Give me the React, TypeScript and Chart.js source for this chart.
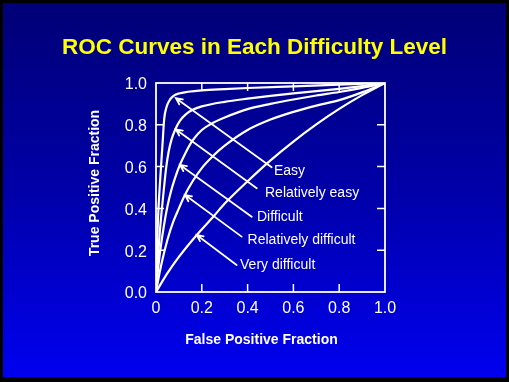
import { useEffect, useRef } from "react";
import { Chart, registerables } from "chart.js";

Chart.register(...registerables);

const FONT = '"Liberation Sans", Arial, Helvetica, sans-serif';

const titleText = "ROC Curves in Each Difficulty Level";
const xAxisTitle = "False Positive Fraction";
const yAxisTitle = "True Positive Fraction";

const tickValues = [0, 0.2, 0.4, 0.6, 0.8, 1.0];
const xTickLabels = ["0", "0.2", "0.4", "0.6", "0.8", "1.0"];
const yTickLabels = ["0.0", "0.2", "0.4", "0.6", "0.8", "1.0"];

const curveNames = ["Easy", "Relatively easy", "Difficult", "Relatively difficult", "Very difficult"];

const easyFpf = [0, 0.004, 0.01, 0.016, 0.022, 0.028, 0.036, 0.046, 0.058, 0.075, 0.1, 0.14, 0.2, 0.3, 0.4, 0.6, 0.8, 1];
const easyTpf = [0, 0.2, 0.38, 0.5, 0.6, 0.7, 0.83, 0.885, 0.915, 0.937, 0.95, 0.958, 0.965, 0.971, 0.976, 0.984, 0.992, 1];

const relEasyFpf = [0, 0.008, 0.016, 0.025, 0.035, 0.045, 0.055, 0.068, 0.085, 0.105, 0.13, 0.16, 0.2, 0.3, 0.4, 0.5, 0.6, 0.7, 0.8, 0.9, 1];
const relEasyTpf = [0, 0.15, 0.28, 0.39, 0.5, 0.6, 0.67, 0.73, 0.78, 0.82, 0.85, 0.872, 0.888, 0.91, 0.925, 0.938, 0.95, 0.961, 0.972, 0.985, 1];

const difficultFpf = [0, 0.01, 0.02, 0.035, 0.05, 0.065, 0.083, 0.105, 0.13, 0.16, 0.2, 0.25, 0.3, 0.4, 0.5, 0.6, 0.7, 0.8, 0.9, 1];
const difficultTpf = [0, 0.12, 0.21, 0.32, 0.41, 0.48, 0.545, 0.61, 0.668, 0.725, 0.775, 0.81, 0.835, 0.875, 0.9, 0.921, 0.94, 0.957, 0.977, 1];

const relDifficultFpf = [0, 0.01, 0.025, 0.05, 0.075, 0.1, 0.125, 0.16, 0.2, 0.25, 0.3, 0.4, 0.5, 0.6, 0.7, 0.8, 0.9, 1];
const relDifficultTpf = [0, 0.06, 0.14, 0.25, 0.335, 0.4, 0.462, 0.53, 0.593, 0.652, 0.7, 0.775, 0.825, 0.862, 0.892, 0.918, 0.955, 1];

const veryDifficultFpf = [0, 0.05, 0.1, 0.178, 0.25, 0.3, 0.4, 0.5, 0.6, 0.7, 0.8, 0.9, 1];
const veryDifficultTpf = [0, 0.09, 0.168, 0.273, 0.36, 0.423, 0.53, 0.63, 0.72, 0.802, 0.876, 0.942, 1];

// annotation arrows (data units)
const arrowTipX = [0.087, 0.087, 0.105, 0.127, 0.178];
const arrowTipY = [0.927, 0.778, 0.608, 0.464, 0.273];
const arrowTailX = [0.505, 0.44, 0.418, 0.374, 0.352];
const arrowTailY = [0.597, 0.496, 0.36, 0.265, 0.129];
const labelX = [0.515, 0.476, 0.441, 0.4, 0.367];
const labelY = [0.579, 0.474, 0.359, 0.246, 0.129];

const seriesFpf = [easyFpf, relEasyFpf, difficultFpf, relDifficultFpf, veryDifficultFpf];
const seriesTpf = [easyTpf, relEasyTpf, difficultTpf, relDifficultTpf, veryDifficultTpf];

const decorPlugin = {
  id: "decor",
  afterDatasetsDraw(chart: any) {
    const { ctx, chartArea: a, scales } = chart;
    const x = scales.x;
    const y = scales.y;
    ctx.save();
    ctx.strokeStyle = "#ffffff";
    ctx.fillStyle = "#ffffff";
    ctx.lineCap = "butt";

    // frame
    ctx.lineWidth = 1.8;
    ctx.strokeRect(a.left, a.top, a.right - a.left, a.bottom - a.top);

    // inward ticks on all four sides
    const tl = 8;
    ctx.lineWidth = 1.5;
    ctx.beginPath();
    tickValues.slice(1, -1).forEach((v) => {
      const px = x.getPixelForValue(v);
      const py = y.getPixelForValue(v);
      ctx.moveTo(px, a.bottom);
      ctx.lineTo(px, a.bottom - tl);
      ctx.moveTo(px, a.top);
      ctx.lineTo(px, a.top + tl);
      ctx.moveTo(a.left, py);
      ctx.lineTo(a.left + tl, py);
      ctx.moveTo(a.right, py);
      ctx.lineTo(a.right - tl, py);
    });
    ctx.stroke();

    // arrows
    ctx.lineWidth = 1.8;
    ctx.lineCap = "round";
    for (let i = 0; i < curveNames.length; i++) {
      const tx = x.getPixelForValue(arrowTipX[i]);
      const ty = y.getPixelForValue(arrowTipY[i]);
      const sx = x.getPixelForValue(arrowTailX[i]);
      const sy = y.getPixelForValue(arrowTailY[i]);
      const ang = Math.atan2(ty - sy, tx - sx);
      const hl = 7;
      const ha = 0.45;
      ctx.beginPath();
      ctx.moveTo(sx, sy);
      ctx.lineTo(tx, ty);
      ctx.moveTo(tx - hl * Math.cos(ang - ha), ty - hl * Math.sin(ang - ha));
      ctx.lineTo(tx, ty);
      ctx.lineTo(tx - hl * Math.cos(ang + ha), ty - hl * Math.sin(ang + ha));
      ctx.stroke();
    }

    // labels
    ctx.font = `14px ${FONT}`;
    ctx.textAlign = "left";
    ctx.textBaseline = "middle";
    for (let i = 0; i < curveNames.length; i++) {
      ctx.fillText(curveNames[i], x.getPixelForValue(labelX[i]), y.getPixelForValue(labelY[i]));
    }

    // axis titles
    ctx.font = `bold 14px ${FONT}`;
    ctx.textAlign = "center";
    ctx.fillText(xAxisTitle, (a.left + a.right) / 2 - 9, a.bottom + 48);
    ctx.save();
    ctx.translate(a.left - 61, (a.top + a.bottom) / 2 - 4.5);
    ctx.rotate(-Math.PI / 2);
    ctx.fillText(yAxisTitle, 0, 0);
    ctx.restore();

    ctx.restore();
  },
};

export default function App() {
  const canvasRef = useRef<HTMLCanvasElement | null>(null);

  useEffect(() => {
    if (!canvasRef.current) return;
    Chart.defaults.font.family = FONT;
    const datasets = curveNames.map((name, i) => ({
      label: name,
      data: seriesFpf[i].map((fx, j) => ({ x: fx, y: seriesTpf[i][j] })),
      borderColor: "#ffffff",
      borderWidth: 2.2,
      pointRadius: 0,
      fill: false,
      cubicInterpolationMode: "monotone" as const,
    }));

    const chart = new Chart(canvasRef.current, {
      type: "line",
      data: { datasets },
      options: {
        animation: false,
        responsive: false,
        maintainAspectRatio: false,
        layout: { padding: 0 },
        plugins: {
          legend: { display: false },
          tooltip: { enabled: false },
          title: {
            display: true,
            text: titleText,
            color: "#ffff00",
            font: { size: 22.5, weight: "bold", family: FONT, lineHeight: 1.2 },
            padding: { top: 34, bottom: 22 },
          },
        },
        scales: {
          x: {
            type: "linear",
            min: 0,
            max: 1,
            afterBuildTicks: (s: any) => {
              s.ticks = tickValues.map((v) => ({ value: v }));
            },
            afterFit: (s: any) => {
              s.height = 90;
              s.paddingLeft = 0;
              s.paddingRight = 0;
            },
            grid: { display: false, drawTicks: false },
            border: { display: false },
            ticks: {
              color: "#ffffff",
              font: { size: 16, family: FONT },
              padding: 7,
              maxRotation: 0,
              autoSkip: false,
              callback: (v: any) => xTickLabels[Math.round(Number(v) * 5)],
            },
          },
          y: {
            type: "linear",
            min: 0,
            max: 1,
            afterBuildTicks: (s: any) => {
              s.ticks = tickValues.map((v) => ({ value: v }));
            },
            afterFit: (s: any) => {
              s.width = 156;
              s.paddingTop = 0;
              s.paddingBottom = 0;
            },
            grid: { display: false, drawTicks: false },
            border: { display: false },
            ticks: {
              color: "#ffffff",
              font: { size: 16, family: FONT },
              padding: 9,
              labelOffset: 2,
              autoSkip: false,
              callback: (v: any) => yTickLabels[Math.round(Number(v) * 5)],
            },
          },
          yRight: {
            type: "linear",
            position: "right",
            min: 0,
            max: 1,
            afterFit: (s: any) => {
              s.width = 124;
              s.paddingTop = 0;
              s.paddingBottom = 0;
            },
            grid: { display: false, drawTicks: false },
            border: { display: false },
            ticks: { display: false },
          },
        },
      },
      plugins: [decorPlugin],
    });
    return () => chart.destroy();
  }, []);

  return (
    <div style={{ position: "fixed", left: 0, top: 0, width: 509, height: 382, background: "#000000" }}>
      <div
        style={{
          position: "absolute",
          left: 3,
          top: 3,
          width: 503,
          height: 374,
          background: "linear-gradient(to bottom, #000076 0%, #0000a8 50%, #0000f0 100%)",
        }}
      />
      <canvas
        ref={canvasRef}
        width={509}
        height={382}
        style={{ position: "absolute", left: 0, top: 0, width: 509, height: 382, display: "block" }}
      />
    </div>
  );
}
